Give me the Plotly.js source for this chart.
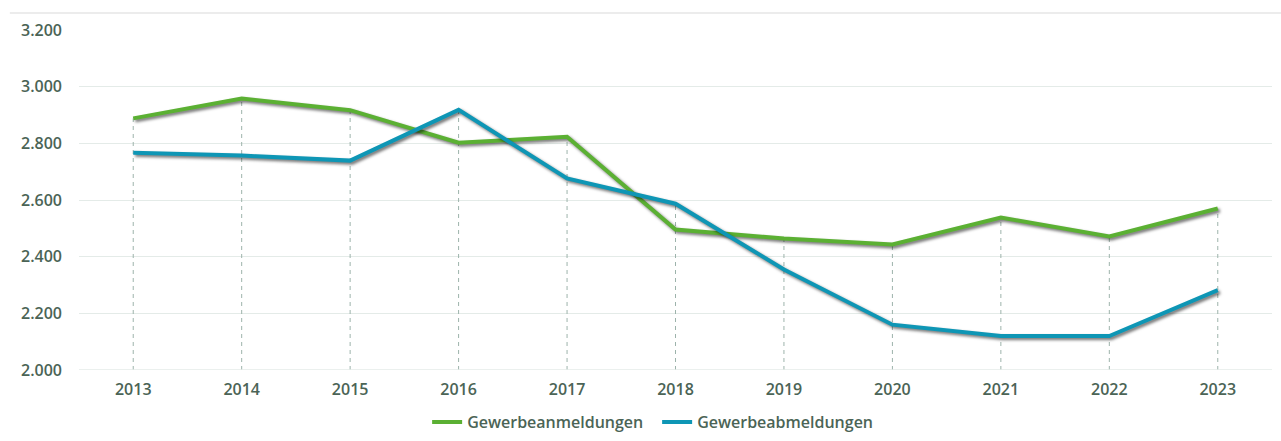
<!DOCTYPE html>
<html>
<head>
<meta charset="utf-8">
<script src="https://cdn.plot.ly/plotly-3.0.1.min.js"></script>
<style>
html,body{margin:0;padding:0;background:#fff;}
#chart{width:1281px;height:441px;}
.scatterlayer .trace.shadowed path.js-line{filter:drop-shadow(2px 2px 1.5px rgba(0,0,0,0.55));}
</style>
</head>
<body>
<div id="chart"></div>
<script>
const years = ['2013','2014','2015','2016','2017','2018','2019','2020','2021','2022','2023'];
const anmeldungen = [2888, 2958, 2917, 2802, 2823, 2496, 2464, 2443, 2538, 2471, 2570];
const abmeldungen = [2767, 2757, 2739, 2918, 2676, 2587, 2355, 2160, 2120, 2120, 2282];
const yTicks = [2000, 2200, 2400, 2600, 2800, 3000, 3200];
const yTickText = ['2.000', '2.200', '2.400', '2.600', '2.800', '3.000', '3.200'];

const textColor = '#4b6456';
const font = {family: '"Open Sans", sans-serif', size: 16, color: textColor, weight: 600};

// drop lines from each category down to the axis (from the higher value)
const dropX = [], dropY = [];
years.forEach((yr, i) => {
  dropX.push(yr, yr, null);
  dropY.push(yTicks[0], Math.max(anmeldungen[i], abmeldungen[i]), null);
});

const traces = [
  {x: dropX, y: dropY, mode: 'lines', hoverinfo: 'skip', showlegend: false,
   line: {color: '#9db3ab', width: 1, dash: '4px,4px'}},
  {x: years, y: anmeldungen, name: 'Gewerbeanmeldungen', mode: 'lines',
   line: {color: '#5bb033', width: 4}},
  {x: years, y: abmeldungen, name: 'Gewerbeabmeldungen', mode: 'lines',
   line: {color: '#0e96b5', width: 4}}
];

const layout = {
  width: 1281, height: 441,
  margin: {l: 79, r: 9, t: 30, b: 71, autoexpand: false},
  paper_bgcolor: '#ffffff', plot_bgcolor: '#ffffff',
  font: font,
  xaxis: {type: 'category', range: [-0.5, 10.5], showgrid: false, zeroline: false,
          showline: false, ticks: '', tickfont: font, ticklabelstandoff: 8, fixedrange: true},
  yaxis: {range: [2000, 3200], tickvals: yTicks, ticktext: yTickText, showgrid: true,
          gridcolor: '#e4ebe8', gridwidth: 1, zeroline: false, showline: false,
          ticks: '', tickfont: font, ticklabelstandoff: 16, fixedrange: true},
  showlegend: true,
  legend: {orientation: 'h', x: 0.4846, xanchor: 'center', yref: 'container', y: 0.043, yanchor: 'middle',
           font: {family: '"Open Sans", sans-serif', size: 16, color: textColor, weight: 600},
           itemwidth: 30, tracegroupgap: 0, entrywidth: 185, entrywidthmode: 'pixels'},
  shapes: [
    {type: 'line', xref: 'paper', yref: 'paper', x0: -0.058, x1: 1.01, y0: 1.05, y1: 1.05,
     line: {color: '#ececec', width: 2}},
    {type: 'line', xref: 'paper', yref: 'y', x0: 0, x1: 1, y0: 2000, y1: 2000,
     line: {color: '#e4ebe8', width: 1.5}}
  ]
};

Plotly.newPlot('chart', traces, layout, {displayModeBar: false, staticPlot: true}).then(() => {
  const tr = document.querySelectorAll('.scatterlayer .trace');
  tr.forEach((t, i) => { if (i > 0) t.classList.add('shadowed'); });
});
</script>
</body>
</html>
